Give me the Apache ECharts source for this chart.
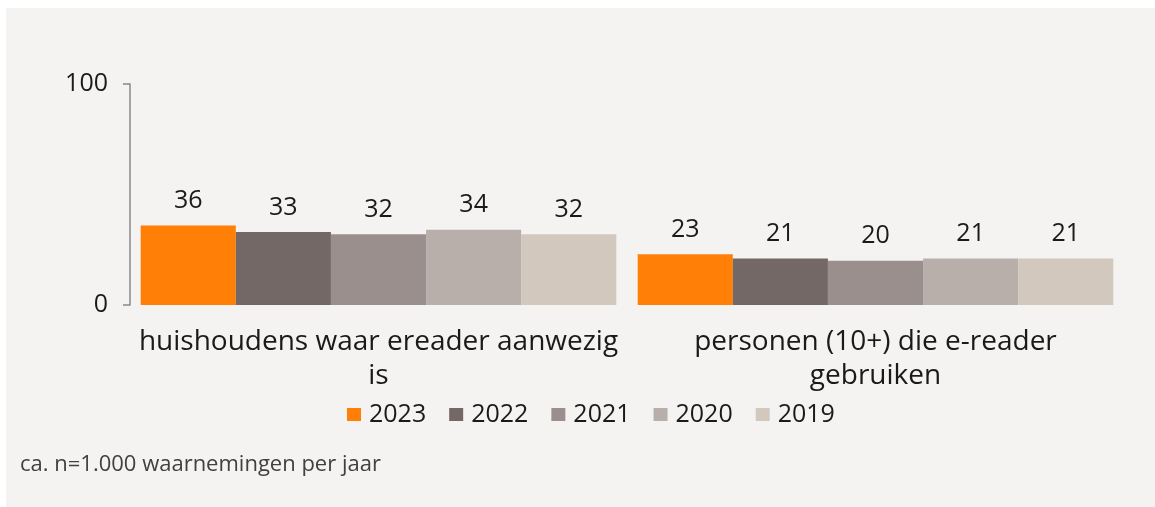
<!DOCTYPE html>
<html>
<head>
<meta charset="utf-8">
<script src="https://cdn.jsdelivr.net/npm/echarts@6/dist/echarts.min.js"></script>
<style>
html,body{margin:0;padding:0;background:#ffffff;}
#chart{width:1155px;height:507px;}
</style>
</head>
<body>
<div id="chart"></div>
<script>
var categories = ["huishoudens waar ereader aanwezig\nis", "personen (10+) die e-reader\ngebruiken"];
var seriesNames = ["2023", "2022", "2021", "2020", "2019"];
var values2023 = [36, 23];
var values2022 = [33, 21];
var values2021 = [32, 20];
var values2020 = [34, 21];
var values2019 = [32, 21];
var yTicks = [0, 100];
var footnote = "ca. n=1.000 waarnemingen per jaar";

var colors = ["#ff7f07", "#736866", "#9b8f8e", "#b8afaa", "#d3c8be"];
var allValues = [values2023, values2022, values2021, values2020, values2019];
var FONT = "Open Sans";

var series = seriesNames.map(function (name, i) {
  return {
    name: name,
    type: "bar",
    data: allValues[i],
    barGap: "0%",
    barCategoryGap: "4.3%",
    itemStyle: { color: colors[i] },
    label: {
      show: true,
      position: "top",
      distance: 12,
      fontFamily: FONT,
      fontSize: 25,
      color: "#1a1a1a"
    }
  };
});

var chart = echarts.init(document.getElementById("chart"), null, { renderer: "canvas" });
chart.setOption({
  animation: false,
  backgroundColor: "#ffffff",
  graphic: [
    { type: "rect", left: 6, top: 8, z: -10, shape: { width: 1149, height: 499 }, style: { fill: "#f4f3f1" } },
    { type: "text", left: 20, top: 454, style: { text: footnote, fontFamily: FONT, fontSize: 22, fill: "#404040" } }
  ],
  grid: { left: 130, right: 31, top: 84, bottom: 202, containLabel: false },
  legend: {
    data: seriesNames,
    top: 397,
    left: 342,
    itemWidth: 14,
    itemHeight: 13,
    itemGap: 23,
    icon: "rect",
    textStyle: { fontFamily: FONT, fontSize: 25, color: "#1a1a1a", padding: [0, 0, 0, 3] }
  },
  xAxis: {
    type: "category",
    data: categories,
    axisLine: { show: false },
    axisTick: { show: false },
    axisLabel: {
      fontFamily: FONT,
      fontSize: 28,
      color: "#1a1a1a",
      lineHeight: 34,
      margin: 20,
      interval: 0
    }
  },
  yAxis: {
    type: "value",
    min: yTicks[0],
    max: yTicks[yTicks.length - 1],
    interval: yTicks[1] - yTicks[0],
    axisLine: { show: true, lineStyle: { color: "#898989", width: 1.5 } },
    axisTick: { show: true, length: 7, lineStyle: { color: "#898989", width: 1.5 } },
    splitLine: { show: false },
    axisLabel: { fontFamily: FONT, fontSize: 25, color: "#1a1a1a", margin: 22 }
  },
  series: series
});
</script>
</body>
</html>
